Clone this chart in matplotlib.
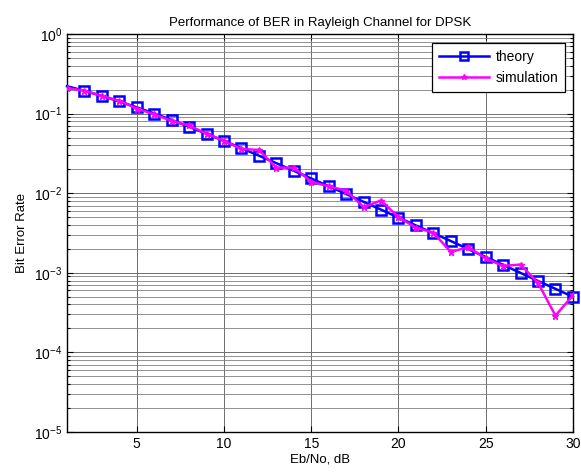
import matplotlib
matplotlib.use("Agg")
import matplotlib.pyplot as plt
from matplotlib.ticker import LogLocator, NullFormatter, FixedLocator

eb_no_db = list(range(1, 31))
ber_theory = [0.2213, 0.1934, 0.1669, 0.1424, 0.1201, 0.1004, 0.0832, 0.0684,
              0.0559, 0.04545, 0.03679, 0.02967, 0.02386, 0.01914, 0.01533,
              0.01225, 0.00978, 0.00780, 0.00622, 0.00495, 0.00394, 0.00315,
              0.00251, 0.00199, 0.00158, 0.00126, 0.000998, 0.000791,
              0.000629, 0.000500]
ber_sim = [0.209, 0.195, 0.167, 0.145, 0.116, 0.098, 0.081, 0.071, 0.056,
           0.0455, 0.036, 0.035, 0.021, 0.021, 0.0140, 0.0122, 0.0108, 0.0067,
           0.0081, 0.0050, 0.0037, 0.0032, 0.00183, 0.0021, 0.00152, 0.00122,
           0.00127, 0.00075, 0.00029, 0.00052]
x_ticks = [5, 10, 15, 20, 25, 30]

plt.rcParams['font.family'] = ['Liberation Sans', 'DejaVu Sans']
fig = plt.figure(figsize=(5.81, 4.73), dpi=100)
ax = fig.add_axes([0.1153, 0.0867, 0.8707, 0.8413])

ax.semilogy(eb_no_db, ber_theory, color='#0000ff', lw=1.8, marker='s',
            markersize=7.5, markerfacecolor='none', markeredgewidth=1.8,
            markevery=slice(1, None), label='theory', clip_on=False, zorder=3)
ax.semilogy(eb_no_db, ber_sim, color='#ff00ff', lw=1.8, marker='*',
            markersize=5, label='simulation', zorder=4)

ax.set_xlim(1, 30)
ax.set_ylim(1e-5, 1)
ax.xaxis.set_major_locator(FixedLocator(x_ticks))
ax.yaxis.set_major_locator(LogLocator(base=10, numticks=10))
ax.yaxis.set_minor_locator(LogLocator(base=10, subs=range(2, 10), numticks=20))
ax.yaxis.set_minor_formatter(NullFormatter())

ax.grid(True, which='major', axis='both', color='#6e6e6e', lw=0.7, ls='-')
ax.grid(True, which='minor', axis='y', color='#808080', lw=0.6, ls='-')
ax.set_axisbelow(True)

ax.tick_params(which='both', direction='in', top=True, right=True,
               labelsize=10, width=0.8)
ax.tick_params(which='major', length=4)
ax.tick_params(which='minor', length=2.5)
for s in ax.spines.values():
    s.set_linewidth(1.0)

ax.set_title('Performance of BER in Rayleigh Channel for DPSK', fontsize=9.5, pad=6)
ax.set_xlabel('Eb/No, dB', fontsize=9.5, labelpad=2)
ax.set_ylabel('Bit Error Rate', fontsize=9.5, labelpad=4)

leg = ax.legend(loc='upper right', fontsize=10, fancybox=False, framealpha=1,
                edgecolor='black', borderpad=0.5, labelspacing=0.55,
                handlelength=3.6, handletextpad=0.5, markerscale=0.8,
                bbox_to_anchor=(0.999, 0.996))
leg.get_frame().set_linewidth(0.9)

fig.savefig('out.png', dpi=100)
